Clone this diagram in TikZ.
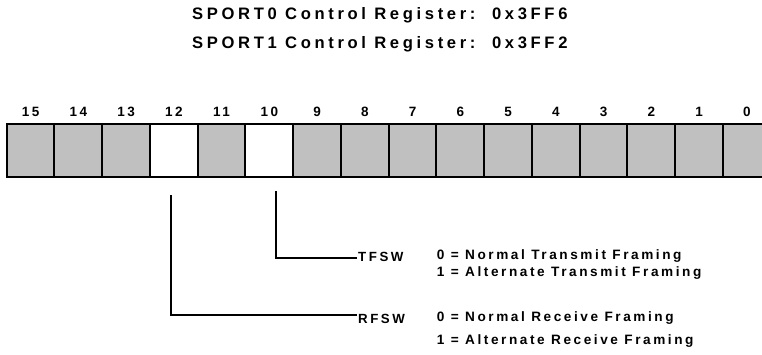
\documentclass[tikz,border=0pt]{standalone}
\usepackage{fontspec}
\setmainfont{Liberation Sans}
\newfontfamily\trackedT[LetterSpace=22]{Liberation Sans}
\newfontfamily\tracked[LetterSpace=19]{Liberation Sans}
\definecolor{bitgray}{HTML}{C0C0C0}
\begin{document}
\begin{tikzpicture}[x=1bp,y=-1bp,
  bitbox/.style={draw=black, line width=2bp, minimum width=47.7bp, minimum height=53bp, inner sep=0, outer sep=0, anchor=north west},
  bitnum/.style={font=\fontsize{13.5bp}{15bp}\bfseries\tracked, inner sep=0},
  title/.style={font=\fontsize{16.6bp}{18bp}\bfseries\trackedT, inner sep=0, anchor=west},
  fld/.style={font=\fontsize{13.3bp}{15bp}\bfseries\tracked, inner sep=0, anchor=west},
  desc/.style={font=\fontsize{13.6bp}{15bp}\bfseries\tracked, inner sep=0, anchor=west},
  conn/.style={line width=2bp}]
\useasboundingbox (0,0) rectangle (762,354);
\node[title] (t0) at (192,15) {SPORT0 Control Register:\ \ 0x3FF6};
\node[title] (t1) at (192,44.5) {SPORT1 Control Register:\ \ 0x3FF2};
\foreach \i in {0,...,15} {
  \pgfmathsetmacro{\xx}{6.7+(15-\i)*47.75}
  \ifnum\i=12 \def\fc{white}\else\ifnum\i=10 \def\fc{white}\else\def\fc{bitgray}\fi\fi
  \node[bitbox, fill=\fc] (b\i) at (\xx,124) {};
  \node[bitnum] (n\i) at ([yshift=12bp]b\i.north) {\i};
}
\node[fld] (tfsw) at (358,256.5) {TFSW};
\node[fld] (rfsw) at (358,318.5) {RFSW};
\node[desc] (d0t) at (436.7,256.5) {0 = Normal Transmit Framing};
\node[desc] (d1t) at (436.7,273.5) {1 = Alternate Transmit Framing};
\node[desc] (d0r) at (436.7,318.5) {0 = Normal Receive Framing};
\node[desc] (d1r) at (436.7,341) {1 = Alternate Receive Framing};
\draw[conn] ([xshift=7bp,yshift=-14bp]b10.south) |- ([xshift=-1.5bp,yshift=-1bp]tfsw.west);
\draw[conn] ([xshift=-3bp,yshift=-18bp]b12.south) |- ([xshift=-1.5bp,yshift=4bp]rfsw.west);
\end{tikzpicture}
\end{document}
